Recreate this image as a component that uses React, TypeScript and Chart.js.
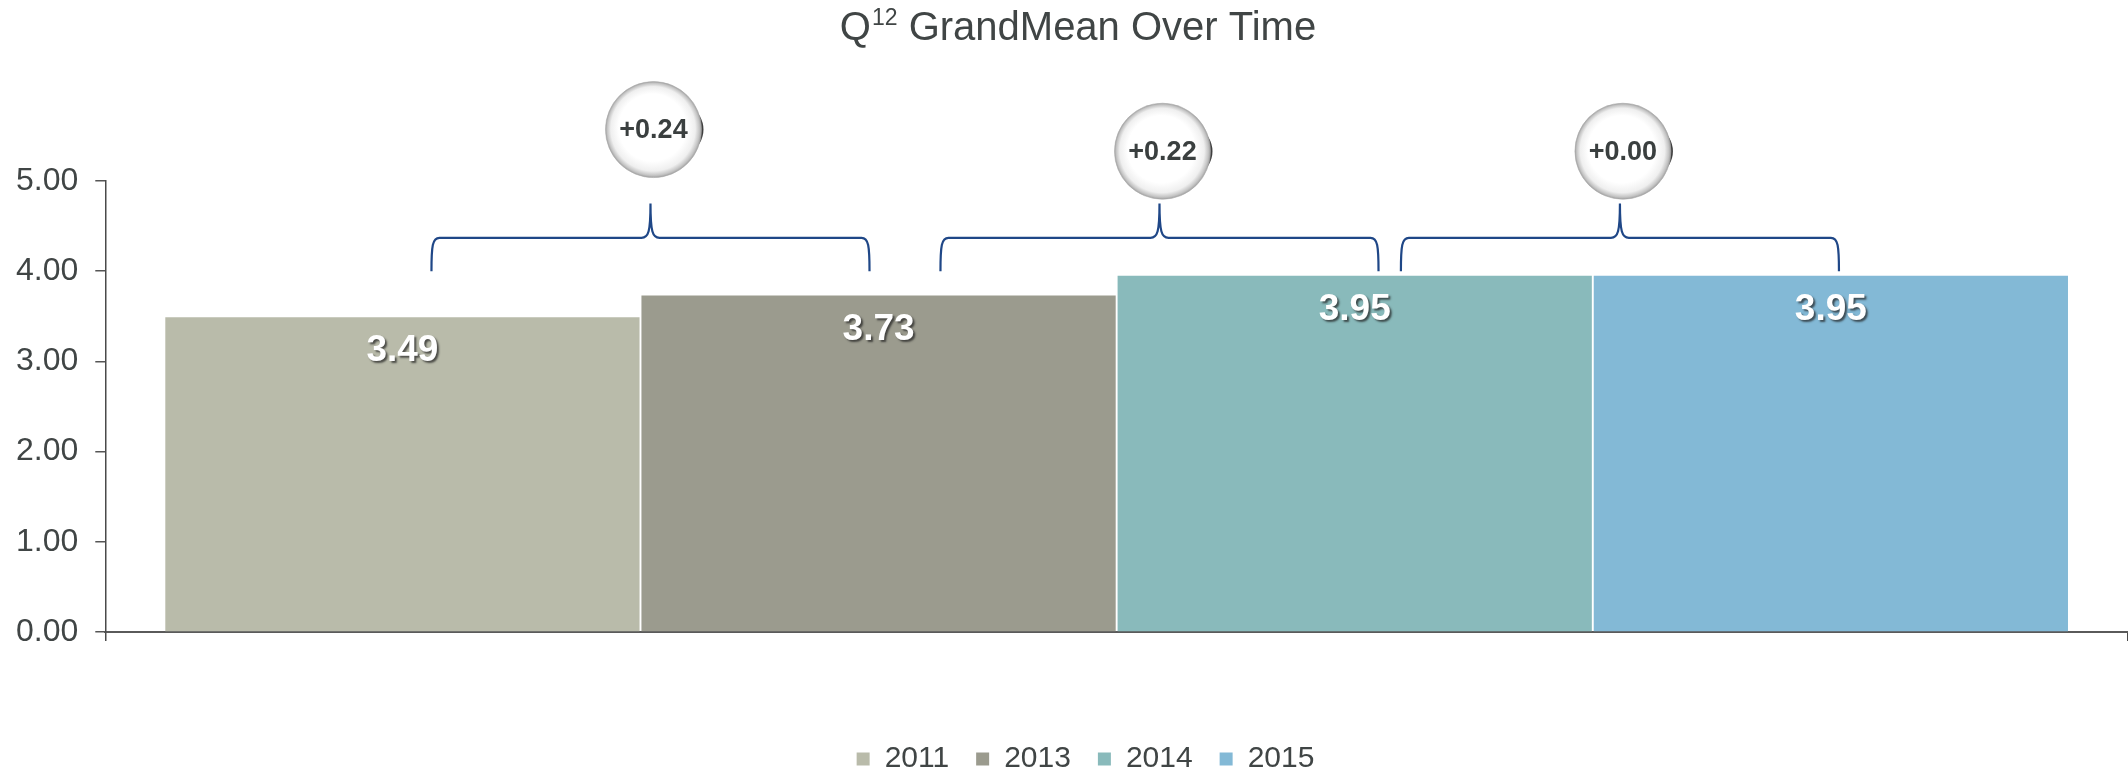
import React, { useEffect, useRef } from 'react';
import { Chart, registerables } from 'chart.js';

Chart.register(...registerables);

const TITLE_MAIN = 'Q';
const TITLE_SUP = '12';
const TITLE_REST = ' GrandMean Over Time';
const CATEGORIES = ['Q12 GrandMean'];
const YEARS = ['2011', '2013', '2014', '2015'];
const VALUES = [3.49, 3.73, 3.95, 3.95];
const Y_TICKS = [0, 1, 2, 3, 4, 5];

const COLORS = ['#b9bbaa', '#9b9b8e', '#89babb', '#83b9d6'];
const TEXT_COLOR = '#404545';
const BRACE_COLOR = '#1f4787';
const FONT = '"Liberation Sans", Arial, sans-serif';

// annotation placement (in value units of the y axis)
const BRACE_END = 4.0;
const BRACE_BAR = 4.37;
const BRACE_PEAK = 4.75;
const BUBBLE_Y = [5.57, 5.33, 5.33];
const BRACE_SHIFT = [0.021, 0.09, 0.057];

const titlePlugin = {
  id: 'supTitle',
  afterDraw(chart: any) {
    const ctx = chart.ctx;
    const mainFont = `40px ${FONT}`;
    const supFont = `23px ${FONT}`;
    ctx.save();
    ctx.font = mainFont;
    const wQ = ctx.measureText(TITLE_MAIN).width;
    const wRest = ctx.measureText(TITLE_REST).width;
    ctx.font = supFont;
    const wSup = ctx.measureText(TITLE_SUP).width + 1;
    const total = wQ + wSup + wRest;
    const cx = chart.width / 2 + 14;
    let x = cx - total / 2;
    const base = 40;
    ctx.fillStyle = TEXT_COLOR;
    ctx.textBaseline = 'alphabetic';
    ctx.textAlign = 'left';
    ctx.font = mainFont;
    ctx.fillText(TITLE_MAIN, x, base);
    x += wQ + 1;
    ctx.font = supFont;
    ctx.fillText(TITLE_SUP, x, base - 15);
    x += wSup - 1;
    ctx.font = mainFont;
    ctx.fillText(TITLE_REST, x, base);
    ctx.restore();
  },
};

const legendShiftPlugin = {
  id: 'legendShift',
  afterLayout(chart: any) {
    const lg = chart.legend;
    if (lg) {
      lg.left += 22;
      lg.right += 22;
    }
  },
};

function drawBubble(ctx: CanvasRenderingContext2D, cx: number, cy: number, r: number, text: string) {
  ctx.save();
  // dark rim shadow on the right
  ctx.beginPath();
  ctx.ellipse(cx + 3, cy, r - 1, r * 0.72, 0, 0, Math.PI * 2);
  ctx.fillStyle = '#3f3f3f';
  ctx.fill();
  // sphere
  const g = ctx.createRadialGradient(cx - r * 0.08, cy - r * 0.14, 0, cx, cy, r);
  g.addColorStop(0, '#ffffff');
  g.addColorStop(0.7, '#ffffff');
  g.addColorStop(0.88, '#efefef');
  g.addColorStop(0.96, '#c4c4c4');
  g.addColorStop(1, '#a0a0a0');
  ctx.beginPath();
  ctx.arc(cx, cy, r, 0, Math.PI * 2);
  ctx.fillStyle = g;
  ctx.fill();
  ctx.lineWidth = 1;
  ctx.strokeStyle = 'rgba(170,170,170,0.6)';
  ctx.stroke();
  ctx.fillStyle = '#3a3f3f';
  ctx.font = `bold 27px ${FONT}`;
  ctx.textAlign = 'center';
  ctx.textBaseline = 'middle';
  ctx.fillText(text, cx, cy + 1);
  ctx.restore();
}

const annotPlugin = {
  id: 'annot',
  afterDatasetsDraw(chart: any) {
    const ctx = chart.ctx as CanvasRenderingContext2D;
    const yScale = chart.scales.y;
    const bars = VALUES.map((_, i) => chart.getDatasetMeta(i).data[0]);

    // value labels inside bars
    ctx.save();
    ctx.font = `bold 37px ${FONT}`;
    ctx.textAlign = 'center';
    ctx.textBaseline = 'middle';
    ctx.shadowColor = 'rgba(30,30,30,0.7)';
    ctx.shadowOffsetX = 2;
    ctx.shadowOffsetY = 2;
    ctx.shadowBlur = 2;
    ctx.fillStyle = '#ffffff';
    bars.forEach((b: any, i: number) => {
      ctx.fillText(VALUES[i].toFixed(2), b.x, b.y + 34);
    });
    ctx.restore();

    // braces and change bubbles
    const yE = yScale.getPixelForValue(BRACE_END);
    const yH = yScale.getPixelForValue(BRACE_BAR);
    const yP = yScale.getPixelForValue(BRACE_PEAK);
    for (let i = 0; i < bars.length - 1; i++) {
      const a = bars[i];
      const b = bars[i + 1];
      const span = b.x - a.x;
      const xc = (a.x + b.x) / 2 + BRACE_SHIFT[i] * span;
      const half = 0.46 * span;
      const x0 = xc - half;
      const x1 = xc + half;
      ctx.save();
      ctx.strokeStyle = BRACE_COLOR;
      ctx.lineWidth = 2.2;
      ctx.lineJoin = 'round';
      ctx.beginPath();
      ctx.moveTo(x0, yE);
      ctx.bezierCurveTo(x0, yH + 8, x0 + 1, yH, x0 + 8, yH);
      ctx.lineTo(xc - 9, yH);
      ctx.bezierCurveTo(xc - 2, yH, xc, yH - 6, xc, yP);
      ctx.moveTo(xc, yP);
      ctx.bezierCurveTo(xc, yH - 6, xc + 2, yH, xc + 9, yH);
      ctx.lineTo(x1 - 8, yH);
      ctx.bezierCurveTo(x1 - 1, yH, x1, yH + 8, x1, yE);
      ctx.stroke();
      ctx.restore();

      const delta = VALUES[i + 1] - VALUES[i];
      const label = (delta >= 0 ? '+' : '') + (Math.abs(delta) < 0.005 ? '0.00' : delta.toFixed(2));
      drawBubble(ctx, xc + 3, yScale.getPixelForValue(BUBBLE_Y[i]), 48, label);
    }
  },
};

export default function App() {
  const ref = useRef<HTMLCanvasElement>(null);

  useEffect(() => {
    if (!ref.current) return;
    Chart.defaults.font.family = FONT;
    const chart = new Chart(ref.current, {
      type: 'bar',
      data: {
        labels: CATEGORIES,
        datasets: YEARS.map((yr, i) => ({
          label: yr,
          data: [VALUES[i]],
          backgroundColor: COLORS[i],
          borderWidth: 0,
          barPercentage: 0.996,
          categoryPercentage: 0.9416,
        })),
      },
      options: {
        responsive: true,
        maintainAspectRatio: false,
        animation: false,
        layout: { padding: { top: 181, left: -1, right: 0, bottom: -14 } },
        plugins: {
          legend: {
            position: 'bottom',
            labels: {
              boxWidth: 13,
              boxHeight: 13,
              padding: 27,
              color: TEXT_COLOR,
              font: { size: 30 },
            },
          },
          tooltip: { enabled: false },
          title: { display: false },
        },
        scales: {
          x: {
            type: 'category',
            offset: true,
            ticks: { display: false },
            grid: {
              display: true,
              drawOnChartArea: false,
              drawTicks: true,
              tickLength: 9,
              color: '#4a4a4a',
              lineWidth: 1.5,
            },
            border: { display: true, color: '#5a5a5a', width: 2 },
            title: { display: true, text: '', font: { size: 10 }, padding: { top: 64, bottom: 0 } },
          },
          y: {
            min: 0,
            max: 5,
            afterBuildTicks: (s: any) => {
              s.ticks = Y_TICKS.map((v) => ({ value: v }));
            },
            ticks: {
              color: TEXT_COLOR,
              font: { size: 32 },
              padding: 17,
              callback: (v: any) => Number(v).toFixed(2),
            },
            grid: {
              display: true,
              drawOnChartArea: false,
              drawTicks: true,
              tickLength: 10,
              color: '#555555',
              lineWidth: 1.5,
            },
            border: { display: true, color: '#4a4a4a', width: 1.5 },
          },
        },
      },
      plugins: [titlePlugin, legendShiftPlugin, annotPlugin],
    } as any);
    return () => chart.destroy();
  }, []);

  return (
    <div style={{ position: 'fixed', left: 0, top: 0, width: 2128, height: 770, background: '#ffffff' }}>
      <canvas ref={ref} />
    </div>
  );
}
